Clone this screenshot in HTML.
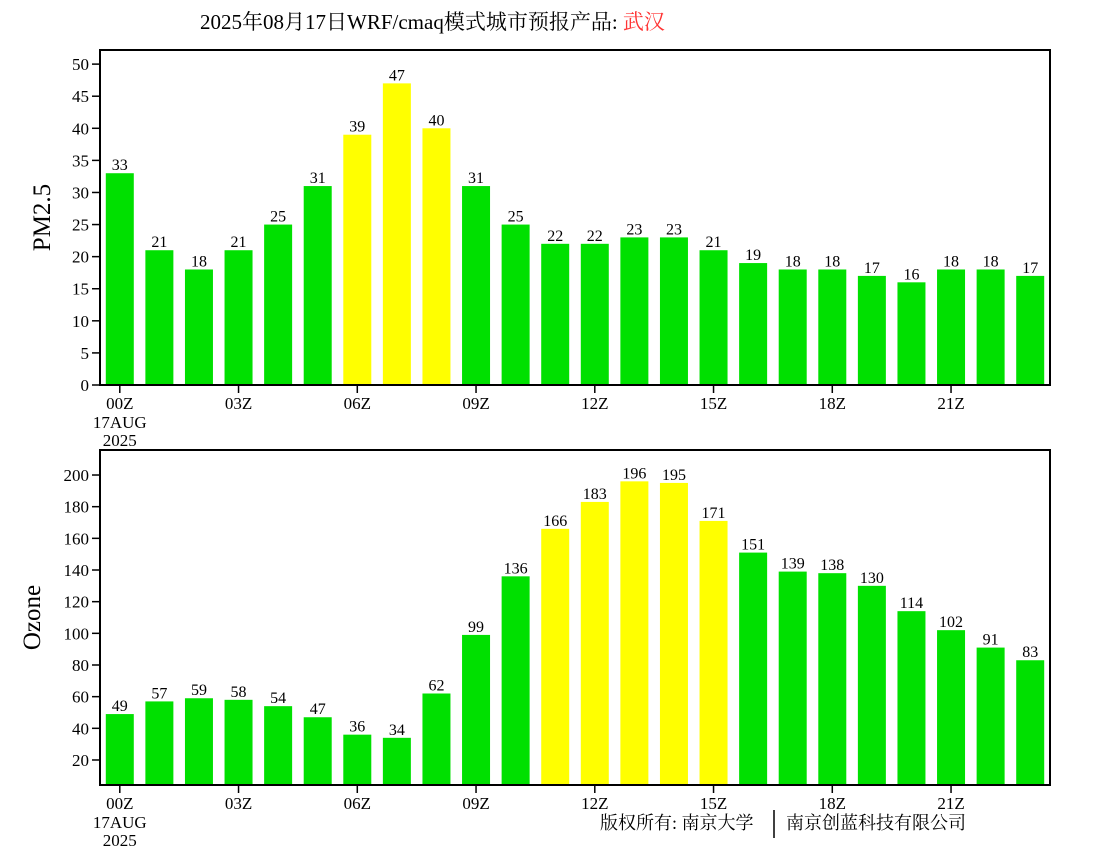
<!DOCTYPE html>
<html><head><meta charset="utf-8"><style>
body{margin:0;background:#fff}
svg{display:block;font-family:"Liberation Serif","Noto Serif CJK SC",serif}
</style></head><body>
<svg id="c" width="1100" height="850" viewBox="0 0 1100 850">
<text x="200" y="29" font-size="21" fill="#000">2025年08月17日WRF/cmaq模式城市预报产品: <tspan fill="#ff3333">武汉</tspan></text>
<text x="600" y="829" font-size="18" fill="#000">版权所有: 南京大学</text>
<line x1="774" y1="810" x2="774" y2="838" stroke="#000" stroke-width="1.5"/>
<text x="786" y="829" font-size="18" fill="#000">南京创蓝科技有限公司</text>
<g id="p1"></g>
<g id="p2"></g>
</svg>
<script>
const hours = ["00Z","01Z","02Z","03Z","04Z","05Z","06Z","07Z","08Z","09Z","10Z","11Z","12Z","13Z","14Z","15Z","16Z","17Z","18Z","19Z","20Z","21Z","22Z","23Z"];
const pm25 = [33,21,18,21,25,31,39,47,40,31,25,22,22,23,23,21,19,18,18,17,16,18,18,17];
const ozone = [49,57,59,58,54,47,36,34,62,99,136,166,183,196,195,171,151,139,138,130,114,102,91,83];
const pmTicks = [0,5,10,15,20,25,30,35,40,45,50];
const ozTicks = [20,40,60,80,100,120,140,160,180,200];
const pmLimit = 35;
const ozLimit = 160;

const NS="http://www.w3.org/2000/svg";
function mk(parent,tag,attrs,text){const e=document.createElementNS(NS,tag);for(const k in attrs)e.setAttribute(k,attrs[k]);if(text!==undefined)e.textContent=text;parent.appendChild(e);return e;}
const X0=100,X1=1050;
const step=(X1-X0)/24;
function xc(i){return X0+step*(i+0.5);}

function panel(g,vals,ticks,limit,top,bot,vmin,vmax,title,titleX){
  const y=v=>bot-(v-vmin)/(vmax-vmin)*(bot-top);
  vals.forEach((v,i)=>{
    const r=mk(g,'rect',{x:xc(i)-14,y:y(v),width:28,height:bot-y(v),fill:v>limit?'#ffff00':'#00e000'});
    
    
    const t=mk(g,'text',{x:xc(i),y:y(v)-3,'font-size':16,'text-anchor':'middle'},String(v));
    
    
  });
  const fr=mk(g,'rect',{x:X0,y:top,width:X1-X0,height:bot-top,fill:'none',stroke:'#000','stroke-width':2});
  
  
  ticks.forEach(t=>{
    mk(g,'line',{x1:X0-8,x2:X0,y1:y(t),y2:y(t),stroke:'#000','stroke-width':1.5});
    const l=mk(g,'text',{x:X0-11,y:y(t)+6,'font-size':17,'text-anchor':'end'},String(t));
    
    
  });
  for(let i=0;i<24;i+=3){
    mk(g,'line',{x1:xc(i),x2:xc(i),y1:bot,y2:bot+8,stroke:'#000','stroke-width':1.5});
    const l=mk(g,'text',{x:xc(i),y:bot+24,'font-size':17,'text-anchor':'middle'},hours[i]);
    
    
  }
  const d1=mk(g,'text',{x:xc(0),y:bot+43,'font-size':17,'text-anchor':'middle'},'17AUG');
  
  
  const d2=mk(g,'text',{x:xc(0),y:bot+61,'font-size':17,'text-anchor':'middle'},'2025');
  
  
  const cy=(top+bot)/2;
  const tt=mk(g,'text',{x:titleX,y:cy,'font-size':25,'text-anchor':'middle',transform:`rotate(-90 ${titleX} ${cy})`},title);
  
  
}
panel(document.getElementById('p1'),pm25,pmTicks,pmLimit,50,385,0,52.2,'PM2.5',50);
panel(document.getElementById('p2'),ozone,ozTicks,ozLimit,450,785,4.2,215.8,'Ozone',40);
</script>
</body></html>
